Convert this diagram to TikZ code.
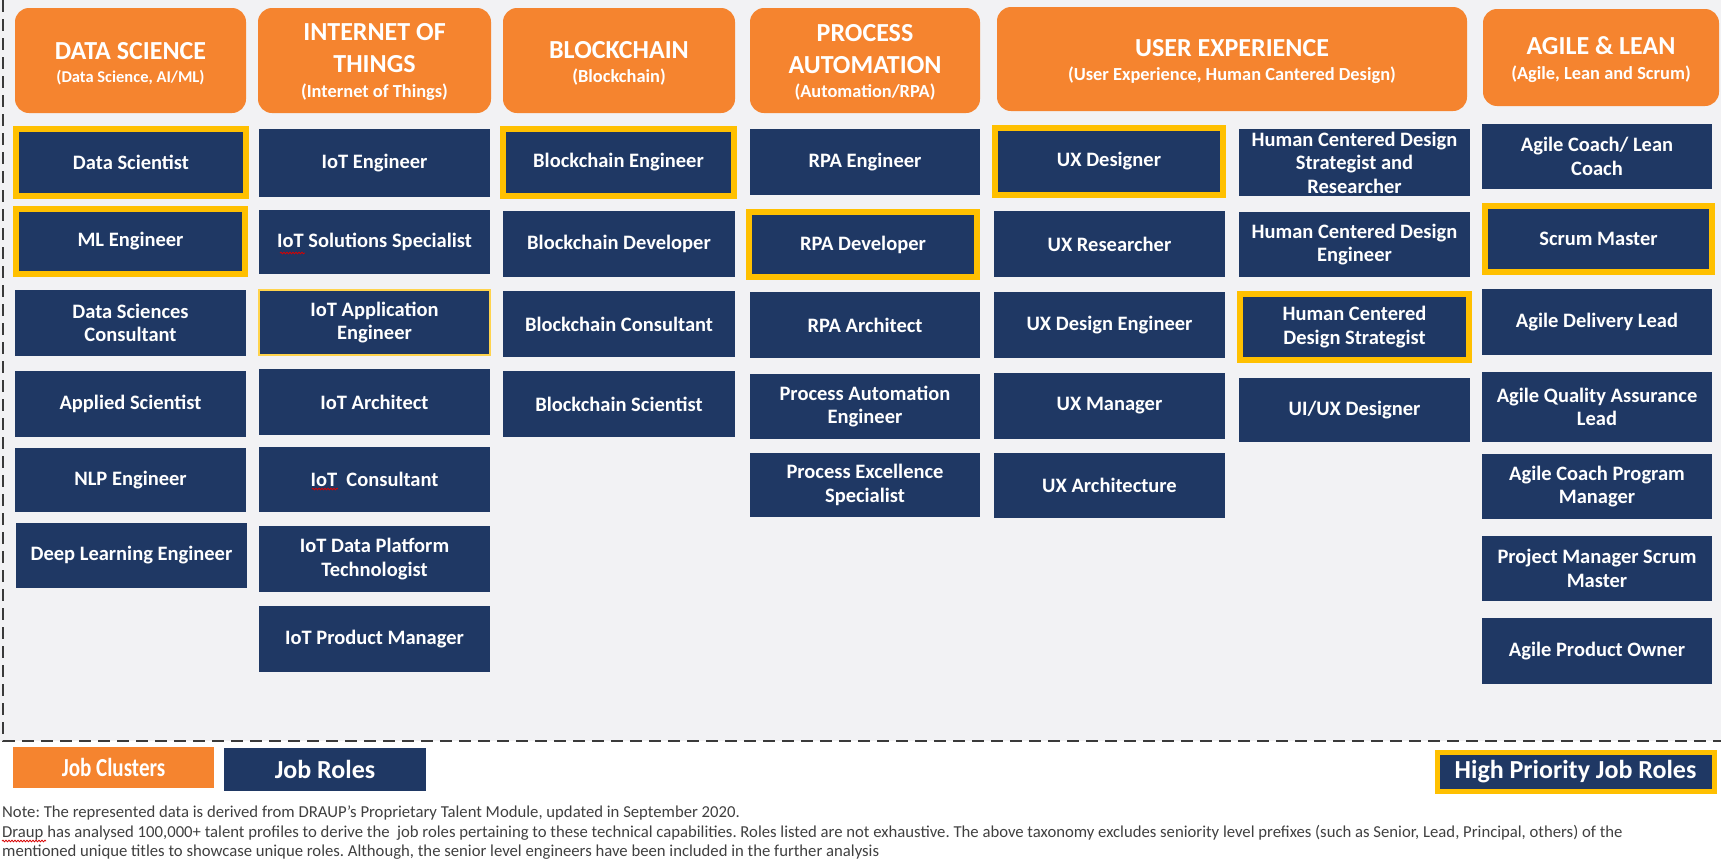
\documentclass[tikz,border=0pt]{standalone}
\usepackage{fontspec}
\usepackage{graphicx}
\setmainfont{Carlito}
\usetikzlibrary{decorations.pathmorphing}
\definecolor{clorange}{HTML}{F5842F}
\definecolor{navy}{HTML}{1F3864}
\definecolor{hiyellow}{HTML}{FFC000}
\definecolor{bggray}{HTML}{F2F2F4}
\definecolor{notegray}{HTML}{404040}
\definecolor{dashgray}{HTML}{3A3A3A}
\newcommand\rolebox[7]{\node[#1,minimum width={(#5-#3)*1pt},minimum height={(#6-#4)*1pt}] (#2) at ({(#3+#5)/2},{(#4+#6)/2}) {#7};}
\tikzset{
  role/.style={fill=navy,text=white,align=center,inner sep=0pt,font=\fontsize{20.5}{23.5}\selectfont\bfseries},
  hirole/.style={role,draw=hiyellow,line width=6pt},
  softrole/.style={role,draw=hiyellow!70,line width=1.5pt},
  cluster/.style={fill=clorange,rounded corners=14pt,inner sep=0pt},
  ctitle/.style={text=white,align=center,inner sep=0pt,font=\fontsize{26}{32}\selectfont\bfseries},
  csub/.style={text=white,align=center,inner sep=0pt,font=\fontsize{18.4}{22}\selectfont\bfseries},
  legend/.style={text=white,inner sep=0pt,font=\fontsize{26}{30}\selectfont\bfseries},
  note/.style={text=notegray,anchor=base west,inner sep=0pt,font=\fontsize{16.7}{19}\selectfont\frenchspacing},
  frame/.style={draw=dashgray,line width=2.8pt,dash pattern=on 12pt off 7pt},
  spell/.style={draw=red!85!black,line width=0.8pt,decorate,decoration={snake,segment length=3pt,amplitude=0.8pt}}
}
\begin{document}
\begin{tikzpicture}[x=1pt,y=-1pt]
\fill[white] (0,0) rectangle (1721,865);
\fill[bggray] (0,0) rectangle (1721,741);
\useasboundingbox (0,0) rectangle (1721,865);
\coordinate (ftop) at (3,0);
\coordinate (fcorner) at (3,741);
\coordinate (fright) at (1721,741);
\draw[frame] (ftop) -- (fcorner) -- (fright);
% clusters
\rolebox{cluster}{ds}{15}{8}{246}{113}{}
\rolebox{cluster}{iot}{258}{8}{491}{113}{}
\rolebox{cluster}{bc}{503}{8}{735}{113}{}
\rolebox{cluster}{pa}{750}{8}{980}{113}{}
\rolebox{cluster}{ux}{997}{7}{1467}{111}{}
\rolebox{cluster}{al}{1483}{9}{1719}{106}{}
\node[ctitle] (dst) at (130.5,51) {DATA SCIENCE};
\node[csub,font=\fontsize{16.5}{20}\selectfont\bfseries] (dss) at (130.5,78) {(Data Science, AI/ML)};
\node[ctitle] (iott) at (374.5,48) {INTERNET OF\\THINGS};
\node[csub] (iots) at (374.5,92) {(Internet of Things)};
\node[ctitle] (bct) at (619,50) {BLOCKCHAIN};
\node[csub] (bcs) at (619,77) {(Blockchain)};
\node[ctitle] (pat) at (865,49) {PROCESS\\AUTOMATION};
\node[csub] (pas) at (865,92) {(Automation/RPA)};
\node[ctitle] (uxt) at (1232,48) {USER EXPERIENCE};
\node[csub] (uxs) at (1232,75) {(User Experience, Human Cantered Design)};
\node[ctitle] (alt) at (1601,46) {AGILE \& LEAN};
\node[csub] (als) at (1601,74) {(Agile, Lean and Scrum)};
% column 1
\rolebox{hirole}{r11}{16}{129}{246}{196}{Data Scientist}
\rolebox{hirole}{r12}{16}{209}{245}{274}{ML Engineer}
\rolebox{role}{r13}{15}{290}{246}{356}{Data Sciences\\Consultant}
\rolebox{role}{r14}{15}{371}{246}{437}{Applied Scientist}
\rolebox{role}{r15}{15}{448}{246}{512}{NLP Engineer}
\rolebox{role}{r16}{16}{523}{247}{588}{Deep Learning Engineer}
% column 2
\rolebox{role}{r21}{259}{129}{490}{197}{IoT Engineer}
\rolebox{role}{r22}{259}{210}{490}{274}{IoT Solutions Specialist}
\rolebox{softrole}{r23}{259}{290}{490}{355}{IoT Application\\Engineer}
\rolebox{role}{r24}{259}{369}{490}{435}{IoT Architect}
\rolebox{role}{r25}{259}{447}{490}{512}{IoT\ \ Consultant}
\rolebox{role}{r26}{259}{526}{490}{592}{IoT Data Platform\\Technologist}
\rolebox{role}{r27}{259}{606}{490}{672}{IoT Product Manager}
% column 3
\rolebox{hirole}{r31}{503}{129}{734}{196}{Blockchain Engineer}
\rolebox{role}{r32}{503}{211}{735}{277}{Blockchain Developer}
\rolebox{role}{r33}{503}{291}{735}{357}{Blockchain Consultant}
\rolebox{role}{r34}{503}{371}{735}{437}{Blockchain Scientist}
% column 4
\rolebox{role}{r41}{750}{129}{980}{195}{RPA Engineer}
\rolebox{hirole}{r42}{749}{212}{977}{277}{RPA Developer}
\rolebox{role}{r43}{750}{292}{980}{358}{RPA Architect}
\rolebox{role}{r44}{750}{374}{980}{439}{Process Automation\\Engineer}
\rolebox{role}{r45}{750}{453}{980}{517}{Process Excellence\\Specialist}
% column 5a
\rolebox{hirole}{r51}{995}{128}{1223}{195}{UX Designer}
\rolebox{role}{r52}{994}{211}{1225}{277}{UX Researcher}
\rolebox{role}{r53}{994}{292}{1225}{358}{UX Design Engineer}
\rolebox{role}{r54}{994}{373}{1225}{439}{UX Manager}
\rolebox{role}{r55}{994}{453}{1225}{518}{UX Architecture}
% column 5b
\rolebox{role}{r61}{1239}{129}{1470}{196}{Human Centered Design\\Strategist and\\Researcher}
\rolebox{role}{r62}{1239}{212}{1470}{277}{Human Centered Design\\Engineer}
\rolebox{hirole}{r63}{1240}{294}{1469}{360}{Human Centered\\Design Strategist}
\rolebox{role}{r64}{1239}{378}{1470}{442}{UI/UX Designer}
% column 6
\rolebox{role}{r71}{1482}{124}{1712}{189}{Agile Coach/ Lean\\Coach}
\rolebox{hirole}{r72}{1485}{206}{1712}{272}{Scrum Master}
\rolebox{role}{r73}{1482}{289}{1712}{355}{Agile Delivery Lead}
\rolebox{role}{r74}{1482}{372}{1712}{442}{Agile Quality Assurance\\Lead}
\rolebox{role}{r75}{1482}{454}{1712}{519}{Agile Coach Program\\Manager}
\rolebox{role}{r76}{1482}{536}{1712}{601}{Project Manager Scrum\\Master}
\rolebox{role}{r77}{1482}{618}{1712}{684}{Agile Product Owner}
% legend
\rolebox{fill=clorange,legend}{lg1}{13}{747}{214}{788}{\scalebox{0.81}[1]{Job Clusters}}
\rolebox{fill=navy,legend}{lg2}{224}{748}{426}{791}{Job Roles}
\rolebox{fill=navy,draw=hiyellow,line width=5pt,legend}{lg3}{1437}{752}{1714}{791}{High Priority Job Roles}
% notes
\node[note] (n1) at (2,817) {Note: The represented data is derived from DRAUP’s Proprietary Talent Module, updated in September 2020.};
\node[note] (n2) at (2,837) {Draup has analysed 100,000+ talent profiles to derive the \ job roles pertaining to these technical capabilities. Roles listed are not exhaustive. The above taxonomy excludes seniority level prefixes (such as Senior, Lead, Principal, others) of the};
\node[note] (n3) at (2,856) {mentioned unique titles to showcase unique roles. Although, the senior level engineers have been included in the further analysis};
% spell-check marks
\coordinate (sp1a) at (280,253); \coordinate (sp1b) at (305,253);
\coordinate (sp2a) at (312,489); \coordinate (sp2b) at (338,489);
\coordinate (sp3a) at (2,841); \coordinate (sp3b) at (46,841);
\draw[spell] (sp1a) -- (sp1b);
\draw[spell] (sp2a) -- (sp2b);
\draw[spell] (sp3a) -- (sp3b);
\end{tikzpicture}
\end{document}
